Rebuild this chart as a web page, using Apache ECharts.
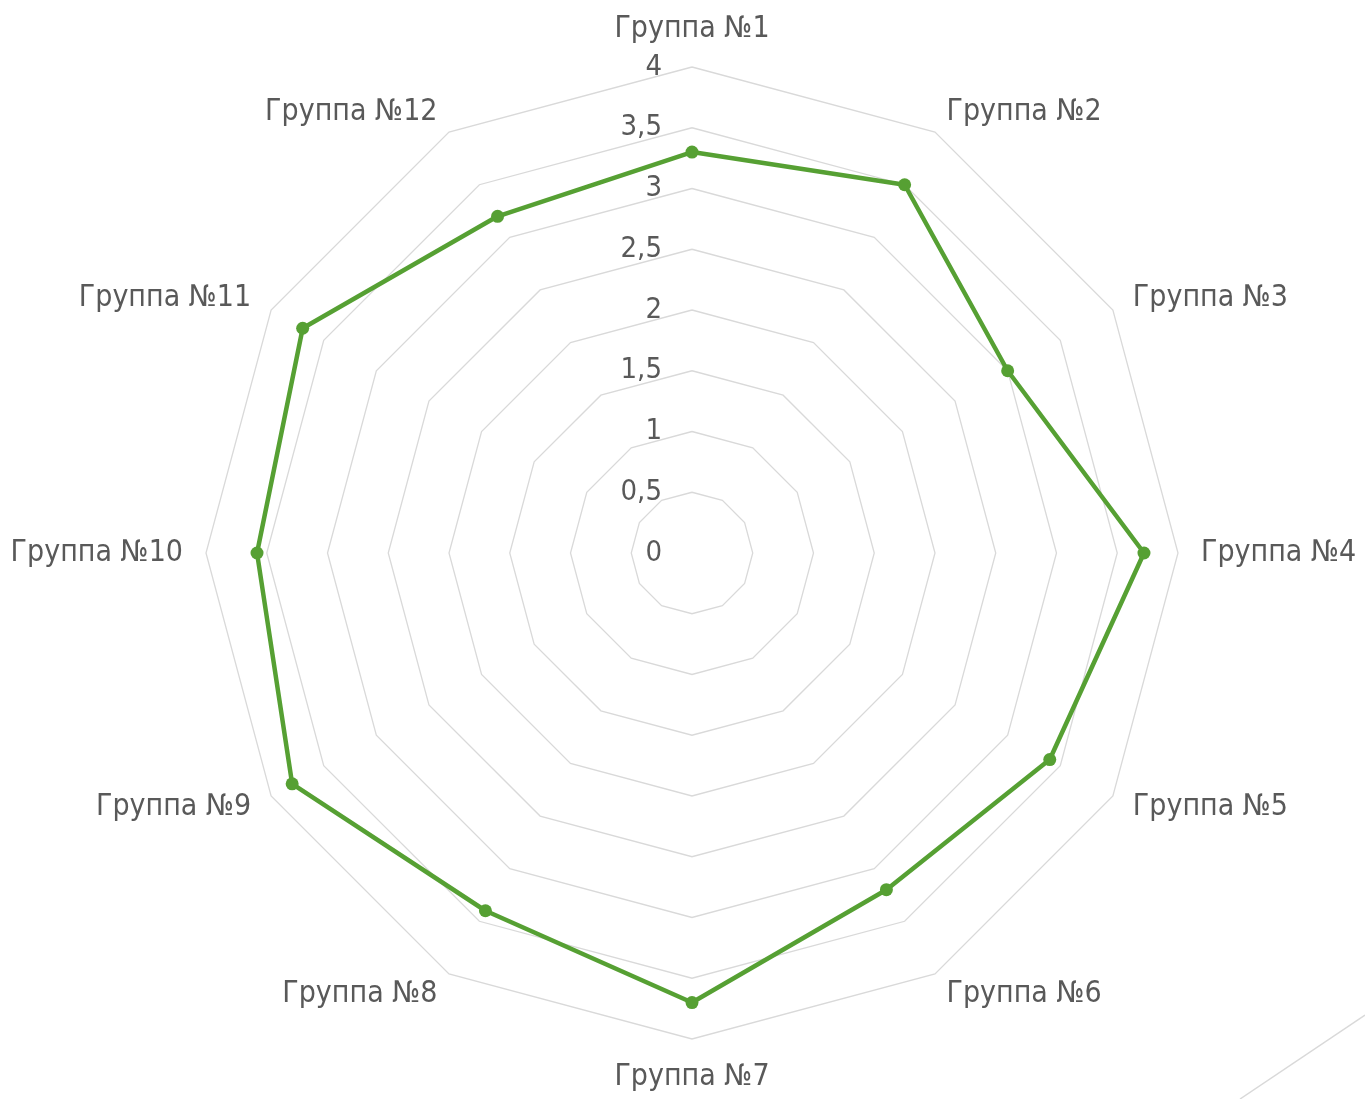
<!DOCTYPE html>
<html>
<head>
<meta charset="utf-8">
<script src="https://cdn.jsdelivr.net/npm/echarts@6/dist/echarts.min.js"></script>
<style>
    html, body { margin: 0; padding: 0; background: #fff; }
    #chart { width: 1365px; height: 1099px; }
</style>
</head>
<body>
<div id="chart"></div>
<script>
let chart = echarts.init(document.querySelector("#chart"))

// data
const groups = ['Группа №1', 'Группа №2', 'Группа №3', 'Группа №4', 'Группа №5', 'Группа №6',
    'Группа №7', 'Группа №8', 'Группа №9', 'Группа №10', 'Группа №11', 'Группа №12']
const scores = [3.3, 3.5, 3.0, 3.72, 3.4, 3.2, 3.7, 3.4, 3.8, 3.58, 3.7, 3.2]
const axisMax = 4
const axisStep = 0.5

const font = '"DejaVu Sans Condensed", "DejaVu Sans", sans-serif'

// radar goes counter-clockwise, so feed it in reverse order (keeping №1 on top)
let order = [0].concat(groups.map((g, i) => i).slice(1).reverse())

let indicators = order.map((i) => {
    let ind = { name: groups[i], min: 0, max: axisMax }
    if (i === 0) {
        ind.axisLabel = {
            show: true,
            color: '#595959',
            fontSize: 29,
            fontFamily: font,
            margin: 30,
            formatter: (v) => String(v).replace('.', ',')
        }
    }
    return ind
})

let option = {
    animation: false,
    radar: {
        center: [692, 553],
        radius: 486,
        startAngle: 90,
        shape: 'polygon',
        splitNumber: axisMax / axisStep,
        indicator: indicators,
        axisName: {
            color: '#595959',
            fontSize: 30,
            fontFamily: font
        },
        nameGap: 23,
        axisLine: { show: false },
        axisTick: { show: false },
        axisLabel: { show: false },
        splitArea: { show: false },
        splitLine: { lineStyle: { color: '#d9d9d9', width: 1.3 } }
    },
    series: [{
        type: 'radar',
        symbol: 'circle',
        symbolSize: 13,
        lineStyle: { color: '#56a033', width: 4.5 },
        itemStyle: { color: '#56a033' },
        data: [{ value: order.map((i) => scores[i]) }]
    }],
    graphic: [{
        type: 'line',
        shape: { x1: 1240, y1: 1099, x2: 1365, y2: 1015 },
        style: { stroke: '#d9d9d9', lineWidth: 1.5 }
    }]
};
chart.setOption(option);
</script>
</body>
</html>
